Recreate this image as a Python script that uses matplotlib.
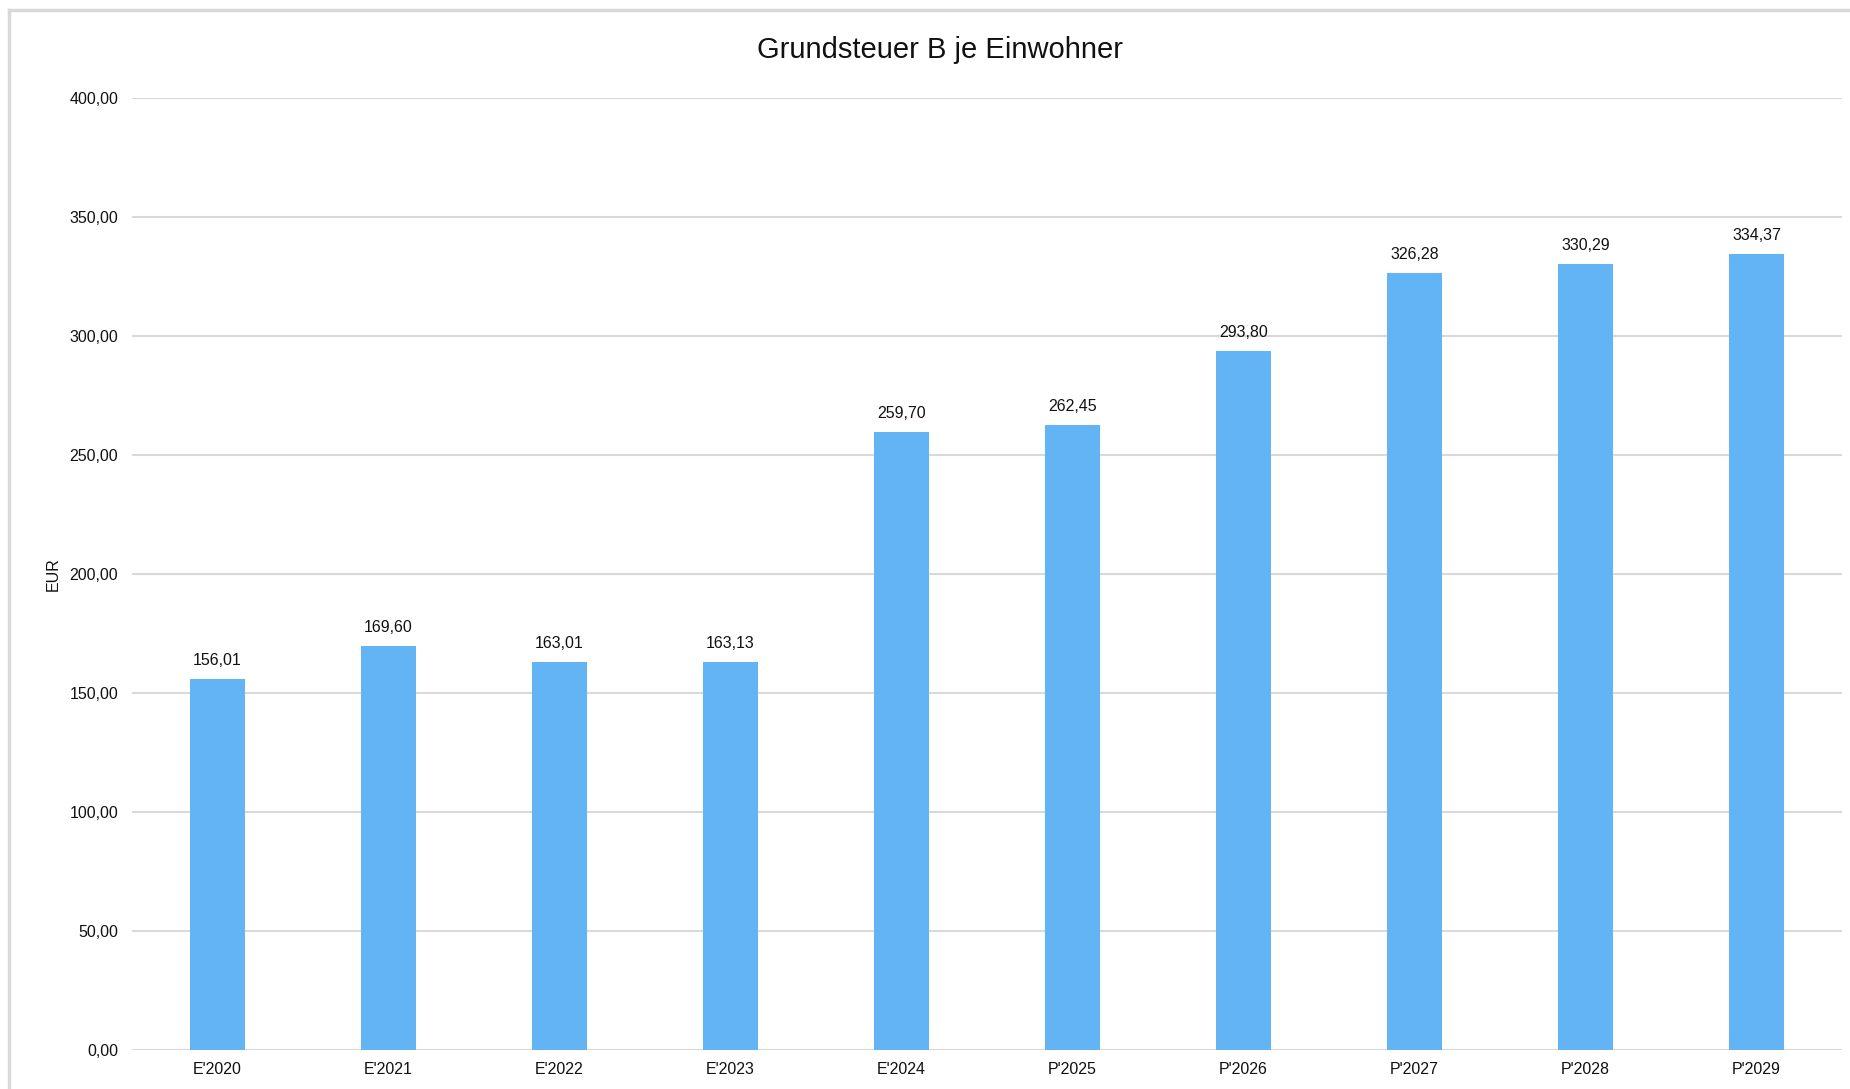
import matplotlib.pyplot as plt
from matplotlib.lines import Line2D

plt.rcParams['font.family'] = ['Liberation Sans', 'DejaVu Sans']

categories = ["E'2020", "E'2021", "E'2022", "E'2023", "E'2024",
              "P'2025", "P'2026", "P'2027", "P'2028", "P'2029"]
values = [156.01, 169.60, 163.01, 163.13, 259.70,
          262.45, 293.80, 326.28, 330.29, 334.37]
y_ticks = [0, 50, 100, 150, 200, 250, 300, 350, 400]


def de_fmt(v):
    return f"{v:.2f}".replace(".", ",")


fig = plt.figure(figsize=(18.5, 10.89), dpi=100)
ax = fig.add_axes([132 / 1850, 1 - 1050 / 1089, (1842 - 132) / 1850, (1050 - 98) / 1089])

x = range(len(categories))
bars = ax.bar(x, values, width=0.316, color="#63B4F5", zorder=3)
for b, v in zip(bars, values):
    ax.annotate(de_fmt(v), (b.get_x() + b.get_width() / 2, v),
                xytext=(0, 8), textcoords="offset points",
                ha="center", va="bottom", fontsize=11.5, color="#111111")

ax.set_xlim(-0.5, len(categories) - 0.5)
ax.set_ylim(0, 400)
ax.set_yticks(y_ticks)
ax.set_yticklabels([de_fmt(t) for t in y_ticks])
ax.set_xticks(list(x))
ax.set_xticklabels(categories)
ax.tick_params(axis="both", length=0, labelsize=11.5, colors="#111111")
ax.tick_params(axis="y", pad=10)
ax.tick_params(axis="x", pad=9)
ax.grid(axis="y", color="#d9d9d9", linewidth=1.5, zorder=0)
for s in ax.spines.values():
    s.set_visible(False)

ax.set_ylabel("EUR", fontsize=11.5, color="#111111", labelpad=0)
ax.yaxis.set_label_coords(-(132 - 61) / 1710, 0.5)

fig.text(940 / 1850, 1 - 50 / 1089, "Grundsteuer B je Einwohner", ha="center", va="center",
         fontsize=21, color="#111111")

# outer frame (only left and top edges visible)
fig.add_artist(Line2D([9 / 1850, 9 / 1850], [0, 1 - 10 / 1089], color="#d9d9d9", linewidth=2.5,
                      transform=fig.transFigure))
fig.add_artist(Line2D([9 / 1850, 1], [1 - 10 / 1089, 1 - 10 / 1089], color="#d9d9d9", linewidth=2.5,
                      transform=fig.transFigure))

fig.savefig("out.png", dpi=100)
